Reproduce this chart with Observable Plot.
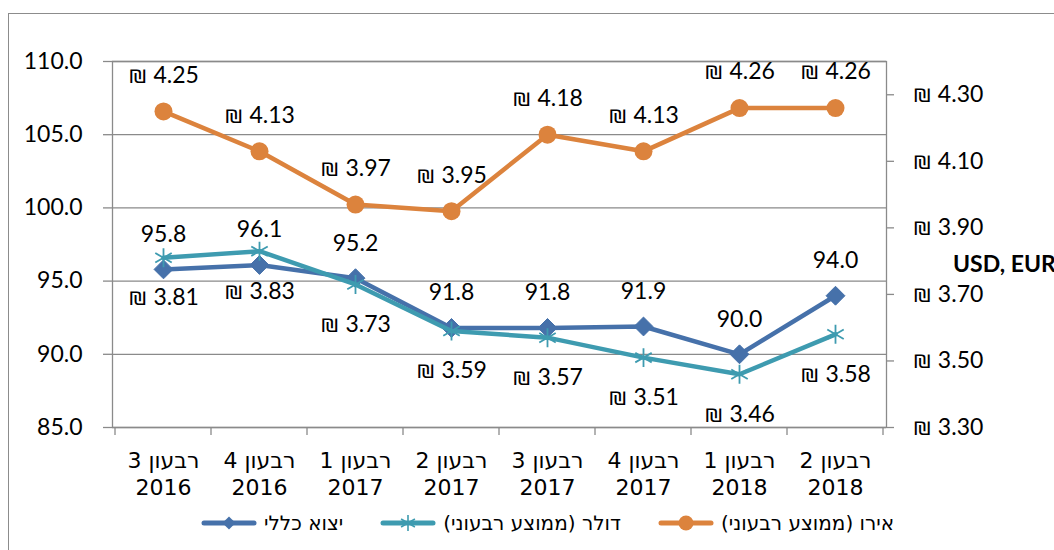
<!DOCTYPE html>
<html>
<head>
<meta charset="utf-8">
<script src="https://cdn.jsdelivr.net/npm/d3@7"></script>
<script src="https://cdn.jsdelivr.net/npm/@observablehq/plot@0.6"></script>
<style>
  html, body { margin: 0; padding: 0; background: #fff; }
  body { width: 1054px; height: 550px; overflow: hidden; position: relative; font-family: Lato, "DejaVu Sans", sans-serif; }
  #frame { position: absolute; left: 8px; top: 13px; width: 1200px; height: 700px; border: 1.5px solid #8c8c8c; box-sizing: border-box; }
  #chart { position: absolute; left: 0; top: 0; }
  #legend { position: absolute; left: 0; top: 505px; height: 36px; display: flex; align-items: center; padding-left: 200px; gap: 36px; font-family: "DejaVu Sans", sans-serif; font-size: 20px; color: #000; }
  .item { display: flex; align-items: center; gap: 6px; }
  .item span { direction: rtl; unicode-bidi: embed; white-space: nowrap; }
  #ylabel { position: absolute; left: 953px; top: 249px; font-family: Lato, sans-serif; font-weight: bold; font-size: 23px; white-space: nowrap; color: #000; }
  svg [aria-label="x-axis tick label"] text { direction: rtl; unicode-bidi: embed; }
</style>
</head>
<body>
<div id="frame"></div>
<div id="chart"></div>
<div id="ylabel">USD, EUR</div>
<div id="legend"></div>
<script>
// ---- data ----
const quarters = ["רבעון 3", "רבעון 4", "רבעון 1", "רבעון 2", "רבעון 3", "רבעון 4", "רבעון 1", "רבעון 2"];
const years = ["2016", "2016", "2017", "2017", "2017", "2017", "2018", "2018"];
const exportIndex = [95.8, 96.1, 95.2, 91.8, 91.8, 91.9, 90.0, 94.0];
const dollarRate = [3.81, 3.83, 3.73, 3.59, 3.57, 3.51, 3.46, 3.58];
const euroRate = [4.25, 4.13, 3.97, 3.95, 4.18, 4.13, 4.26, 4.26];
const leftTicks = [85, 90, 95, 100, 105, 110];
const rightTicks = [3.30, 3.50, 3.70, 3.90, 4.10, 4.30];
const leftDomain = [85, 110];
const rightDomain = [3.30, 4.40];
const seriesNames = ["יצוא כללי", "דולר (ממוצע רבעוני)", "אירו (ממוצע רבעוני)"];
const colors = { exp: "#4671aa", usd: "#3e9bb0", eur: "#dc833d" };

const categories = quarters.map((q, i) => q + "\n" + years[i]);
const toLeft = d3.scaleLinear(rightDomain, leftDomain);
const rows = categories.map((c, i) => ({
  c, exp: exportIndex[i], usd: dollarRate[i], eur: euroRate[i],
  usdY: toLeft(dollarRate[i]), eurY: toLeft(euroRate[i])
}));

const gridColor = "#8a8a8a";
const numFont = 23;

// tick marks at category boundaries (drawn from the x scale)
function boundaryTicks(index, scales, values, dimensions) {
  const x = scales.x;
  const step = x(categories[1]) - x(categories[0]);
  const y0 = dimensions.height - dimensions.marginBottom;
  const g = d3.create("svg:g").attr("stroke", gridColor).attr("stroke-width", 1.3);
  const pos = categories.map(c => x(c) - step / 2).concat([x(categories[categories.length - 1]) + step / 2]);
  for (const p of pos) g.append("line").attr("x1", p).attr("x2", p).attr("y1", y0).attr("y2", y0 + 8);
  return g.node();
}

const chart = Plot.plot({
  width: 1054,
  height: 505,
  marginLeft: 112,
  marginRight: 168,
  marginTop: 61,
  marginBottom: 78,
  style: { fontFamily: "Lato, 'DejaVu Sans', sans-serif", fontSize: numFont + "px", color: "#000", background: "transparent", overflow: "visible" },
  x: { type: "point", domain: categories, padding: 0.5, label: null },
  y: { domain: leftDomain, label: null },
  marks: [
    Plot.gridY(leftTicks, { stroke: gridColor, strokeOpacity: 1, strokeWidth: 1.3 }),
    Plot.frame({ stroke: gridColor, strokeWidth: 1.3 }),
    Plot.axisY(leftTicks, { anchor: "left", label: null, tickSize: 9, tickPadding: 21, stroke: gridColor, strokeWidth: 1.3, fill: "#000", fontSize: numFont, tickFormat: d => d.toFixed(1) }),
    Plot.axisY(rightTicks.map(toLeft), { anchor: "right", label: null, tickSize: 7, tickPadding: 19, stroke: gridColor, strokeWidth: 1.3, fill: "#000", fontSize: numFont, tickFormat: d => "₪ " + toLeft.invert(d).toFixed(2) }),
    Plot.axisX({ label: null, tickSize: 0, tickPadding: 22, fill: "#000", fontSize: 22, fontFamily: "'DejaVu Sans', sans-serif", lineHeight: 1.2 }),
    boundaryTicks,
    // export
    Plot.line(rows, { x: "c", y: "exp", stroke: colors.exp, strokeWidth: 4.5 }),
    Plot.dot(rows, { x: "c", y: "exp", symbol: "diamond2", r: 8.5, fill: colors.exp, stroke: colors.exp, strokeWidth: 1 }),
    // dollar
    Plot.line(rows, { x: "c", y: "usdY", stroke: colors.usd, strokeWidth: 4.5 }),
    Plot.dot(rows, { x: "c", y: "usdY", symbol: "asterisk", r: 9, stroke: colors.usd, strokeWidth: 1.8 }),
    // euro
    Plot.line(rows, { x: "c", y: "eurY", stroke: colors.eur, strokeWidth: 4.5 }),
    Plot.dot(rows, { x: "c", y: "eurY", r: 9, fill: colors.eur }),
    // labels
    Plot.text(rows, { x: "c", y: "exp", text: d => d.exp.toFixed(1), dy: -35, fontSize: numFont, fill: "#000" }),
    Plot.text(rows, { x: "c", y: "usdY", text: d => "₪ " + d.usd.toFixed(2), dy: 40, fontSize: numFont, fill: "#000" }),
    Plot.text(rows, { x: "c", y: "eurY", text: d => "₪ " + d.eur.toFixed(2), dy: -36, fontSize: numFont, fill: "#000" })
  ]
});
document.getElementById("chart").appendChild(chart);

// legend
const legend = d3.select("#legend");
const markers = [
  { color: colors.exp, type: "diamond" },
  { color: colors.usd, type: "asterisk" },
  { color: colors.eur, type: "circle" }
];
seriesNames.forEach((name, i) => {
  const m = markers[i];
  const item = legend.append("div").attr("class", "item");
  const svg = item.append("svg").attr("width", 58).attr("height", 24);
  svg.append("line").attr("x1", 4).attr("x2", 54).attr("y1", 12).attr("y2", 12)
    .attr("stroke", m.color).attr("stroke-width", 5).attr("stroke-linecap", "round");
  if (m.type === "diamond") {
    svg.append("path").attr("d", d3.symbol(d3.symbolDiamond2, 110)()).attr("transform", "translate(29,12)").attr("fill", m.color);
  } else if (m.type === "asterisk") {
    svg.append("path").attr("d", d3.symbol(d3.symbolAsterisk, 180)()).attr("transform", "translate(29,12)").attr("stroke", m.color).attr("stroke-width", 1.6).attr("fill", "none");
  } else {
    svg.append("circle").attr("cx", 29).attr("cy", 12).attr("r", 7.5).attr("fill", m.color);
  }
  item.append("span").text(name);
});
</script>
</body>
</html>
